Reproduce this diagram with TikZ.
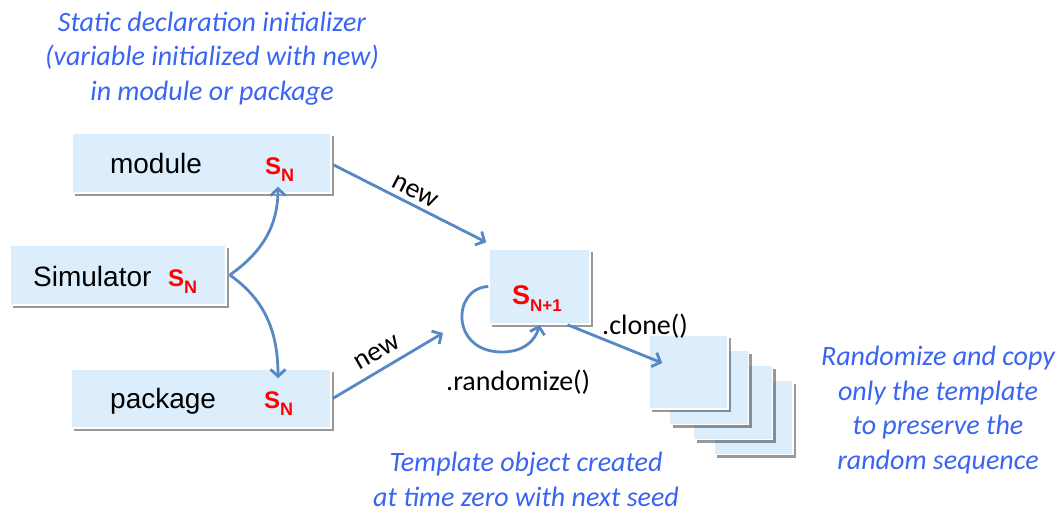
\documentclass[tikz,border=0pt]{standalone}
\usepackage{fontspec}
\setmainfont{Liberation Sans}
\newfontfamily\notefont{Carlito}
\usetikzlibrary{shadows,arrows.meta,calc}

\definecolor{noteblue}{RGB}{58,100,242}
\definecolor{arrowblue}{RGB}{86,136,196}
\definecolor{boxfill}{RGB}{220,238,252}
\definecolor{seedred}{RGB}{255,0,0}

% seed symbol: bold S with a lowered bold subscript
\newcommand\seedsym[3]{{\color{seedred}\bfseries\fontsize{#1}{#1}\selectfont S\raisebox{-7pt}{\fontsize{#2}{#2}\selectfont #3}}}

\tikzset{
  objbox/.style={draw=white, line width=1.5pt, fill=boxfill, inner sep=0pt,
    drop shadow={shadow xshift=3pt, shadow yshift=-3pt, fill=black, opacity=0.4}},
  flow/.style={draw=arrowblue, line width=2.8pt,
    -{Straight Barb[length=7pt,width=15pt,line width=2.8pt]}},
  plain/.style={inner sep=0pt, font=\fontsize{28}{28}\selectfont},
  codetxt/.style={inner sep=0pt, font=\notefont\fontsize{28}{28}\selectfont},
  note/.style={inner sep=0pt, align=center, text=noteblue,
    font=\notefont\itshape\fontsize{28}{34.5}\selectfont},
}

\begin{document}
\begin{tikzpicture}[x=1pt, y=1pt]
\useasboundingbox (0,0) rectangle (1062,-512);

% boxes holding a seed
\node[objbox, minimum width=259pt, minimum height=60pt] (mod) at (201.5,-163) {};
\node[objbox, minimum width=216pt, minimum height=60pt] (sim) at (118,-275) {};
\node[objbox, minimum width=260pt, minimum height=59pt] (pkg) at (201,-398.5) {};
\node[objbox, minimum width=101pt, minimum height=75pt] (tpl) at (539.5,-286.5) {};

% stack of clones, back to front
\node[objbox, minimum width=79pt, minimum height=74pt] (c4) at (753.5,-417.5) {};
\node[objbox, minimum width=79pt, minimum height=74pt] (c3) at (733,-402.5) {};
\node[objbox, minimum width=79pt, minimum height=74pt] (c2) at (709,-387.5) {};
\node[objbox, minimum width=79pt, minimum height=74pt] (c1) at (688.5,-372) {};

% box texts
\node[plain, anchor=base] (modtxt) at (156,-173) {module};
\node[plain, anchor=base west] (modseed) at (265,-174) {\seedsym{24}{18}{N}};
\node[plain, anchor=base west] (simtxt) at (33,-286) {Simulator};
\node[plain, anchor=base west] (simseed) at (168,-286) {\seedsym{24}{18}{N}};
\node[plain, anchor=base west] (pkgtxt) at (110,-408) {package};
\node[plain, anchor=base west] (pkgseed) at (264,-408) {\seedsym{24}{18}{N}};
\node[plain, anchor=base west] (tplseed) at (512,-304) {\seedsym{27}{17}{N+1}};

% connectors
\coordinate (pkgnew) at (443,-333);
\draw[flow] ([xshift=3pt]sim.east) to[out=35, in=-90] ([xshift=76.5pt,yshift=7pt]mod.south);
\draw[flow] ([xshift=3pt]sim.east) to[out=-35, in=90] ([xshift=77pt,yshift=-10pt]pkg.north);
\draw[flow] ([xshift=2pt,yshift=-2pt]mod.east) -- ([xshift=-2pt,yshift=6pt]tpl.north west);
\draw[flow] ([xshift=1pt]pkg.east) -- (pkgnew);
\draw[flow] (tpl.west) .. controls (452,-288) and (450,-352) .. (502,-352)
  .. controls (522,-352) and (535,-342) .. (tpl.south);
\draw[flow] ([xshift=28pt]tpl.south) -- ([xshift=14pt,yshift=9pt]c1.west);

% connector labels
\node[codetxt, rotate=-27] (newa) at (415,-192) {new};
\node[codetxt, rotate=30] (newb) at (377,-353) {new};
\node[codetxt, anchor=base west] (clonetxt) at (602,-334) {.clone()};
\node[codetxt, anchor=base west] (randtxt) at (446,-390) {.randomize()};

% notes (anchored at the baseline of their last line)
\node[note, anchor=base] (topnote) at (212,-100)
  {Static declaration initializer\\(variable initialized with new)\\in module or package};
\node[note, anchor=base] (rightnote) at (938,-469)
  {Randomize and copy\\only the template\\to preserve the\\random sequence};
\node[note, anchor=base] (bottomnote) at (526,-506)
  {Template object created\\at time zero with next seed};
\end{tikzpicture}
\end{document}
